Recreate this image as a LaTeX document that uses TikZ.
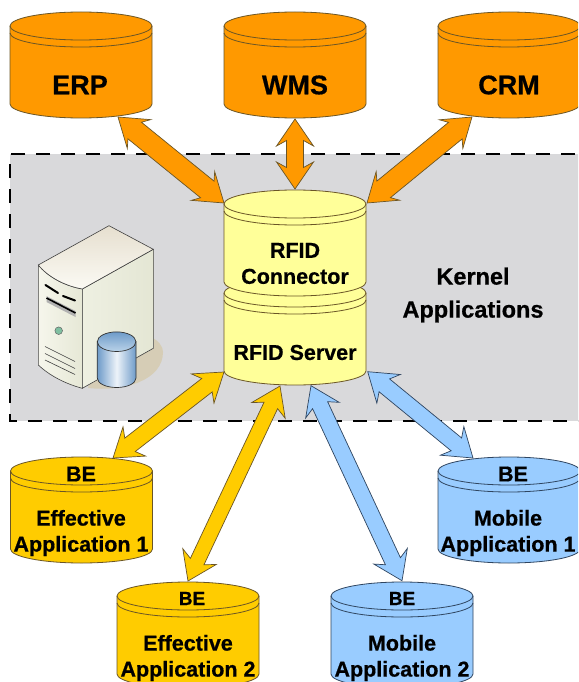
\documentclass[tikz,border=0pt]{standalone}
\usepackage{fontspec}
\setmainfont[BoldFont={Liberation Sans Bold},BoldFeatures={FakeBold=0.6}]{Liberation Sans}
\usetikzlibrary{calc}
\definecolor{cOrange}{HTML}{FF9900}
\definecolor{cGold}{HTML}{FFCC00}
\definecolor{cPale}{HTML}{FFFF99}
\definecolor{cBlue}{HTML}{99CCFF}
\definecolor{cEdge}{HTML}{6A5526}
\definecolor{cSlate}{HTML}{2F4560}
\definecolor{cPanel}{HTML}{D9D9DB}
\definecolor{cShadow}{HTML}{D6CDB6}
\definecolor{cDrumEdge}{HTML}{6E9BC9}
\definecolor{cDrumMid}{HTML}{EDF3F9}
\definecolor{cDrumTop}{HTML}{BAD3E9}
\definecolor{cFrontA}{HTML}{F6F6EC}
\definecolor{cFrontB}{HTML}{E6E8D6}
\definecolor{cSideA}{HTML}{EEF0E2}
\definecolor{cSideB}{HTML}{E4E6D4}
\definecolor{cTopA}{HTML}{E6DFCF}
\definecolor{cTopB}{HTML}{FBFAF4}
\definecolor{cLed}{HTML}{7FBFA0}
\tikzset{
  linkshape/.style={line width=0.7pt,line join=miter},
  bigtext/.style={font=\bfseries\fontsize{27}{30}\selectfont,inner sep=0pt,text=black},
  midtext/.style={font=\bfseries\fontsize{21.5}{26}\selectfont,inner sep=0pt,align=center,text=black},
  smalltext/.style={font=\bfseries\fontsize{19}{22}\selectfont,inner sep=0pt,text=black},
  kerneltext/.style={font=\bfseries\fontsize{23.5}{33}\selectfont,inner sep=0pt,align=center,text=black},
  srvline/.style={draw=black!75,line width=0.6pt},
}
% cylinder: cx, top y, bottom y, fill, edge
\newcommand\cyl[5]{%
  \draw[draw=#5,line width=0.8pt,fill=#4] ({#1-71},{#2+14}) .. controls ({#1-71},{#2+6.3}) and ({#1-39.2},{#2}) .. ({#1},{#2}) .. controls ({#1+39.2},{#2}) and ({#1+71},{#2+6.3}) .. ({#1+71},{#2+14}) -- ({#1+71},{#3-14}) .. controls ({#1+71},{#3-6.3}) and ({#1+39.2},{#3}) .. ({#1},{#3}) .. controls ({#1-39.2},{#3}) and ({#1-71},{#3-6.3}) .. ({#1-71},{#3-14}) -- cycle;
  \draw[draw=#5,line width=0.8pt] ({#1-71},{#2+14}) .. controls ({#1-71},{#2+21.7}) and ({#1-39.2},{#2+28}) .. ({#1},{#2+28}) .. controls ({#1+39.2},{#2+28}) and ({#1+71},{#2+21.7}) .. ({#1+71},{#2+14});
  \draw[draw=#5,line width=0.8pt] ({#1-71},{#2+21}) .. controls ({#1-71},{#2+28.7}) and ({#1-39.2},{#2+35}) .. ({#1},{#2+35}) .. controls ({#1+39.2},{#2+35}) and ({#1+71},{#2+28.7}) .. ({#1+71},{#2+21});
}
% double arrow: end a, end b, fill, shaft half width, edge
\newcommand\dbl[5]{%
  \coordinate (A) at #1; \coordinate (B) at #2;
  \coordinate (Aa) at ($(A)!27pt!(B)$); \coordinate (Ab) at ($(A)!21.5pt!(B)$);
  \coordinate (Ba) at ($(B)!27pt!(A)$); \coordinate (Bb) at ($(B)!21.5pt!(A)$);
  \draw[linkshape,draw=#5,fill=#3] (A) -- ($(Aa)!18.5pt!90:(B)$) -- ($(Ab)!#4!90:(B)$) -- ($(Bb)!#4!-90:(A)$) -- ($(Ba)!18.5pt!-90:(A)$) -- (B)
     -- ($(Ba)!18.5pt!90:(A)$) -- ($(Bb)!#4!90:(A)$) -- ($(Ab)!#4!-90:(B)$) -- ($(Aa)!18.5pt!-90:(B)$) -- cycle;
}
\begin{document}
\begin{tikzpicture}[x=1pt,y=-1pt]
\useasboundingbox (0,0) rectangle (578,682);
\clip (0,0) rectangle (578,682);
\fill[white] (0,0) rectangle (578,682);
% kernel panel
\fill[cPanel] (10,154) rectangle (600,421);
\draw[black,line width=2.6pt,dash pattern=on 14pt off 11pt] (600,154) -- (10,154) -- (10,421) -- (600,421);
% server illustration
\fill[cShadow] (88,388) .. controls (125,392) and (163,380) .. (163,352) .. controls (163,346) and (158,341) .. (153,338) -- (90,380) -- cycle;
\shade[left color=cFrontA,right color=cFrontB,draw=black!75,line width=0.6pt] (38.3,265) -- (38.3,365) .. controls (50,376) and (66,384) .. (82.3,388.3) -- (82.3,289) .. controls (65,286) and (48,277) .. (38.3,265) -- cycle;
\shade[left color=cSideA,right color=cSideB,draw=black!75,line width=0.6pt] (82.3,289) -- (153.3,249.3) -- (153.3,348.3) -- (82.3,388.3) -- cycle;
\shade[top color=cTopA,bottom color=cTopB,draw=black!75,line width=0.6pt] (38.3,265) -- (109,225.7) -- (153.3,249.3) -- (82.3,289) .. controls (65,286) and (48,277) .. (38.3,265) -- cycle;
\draw[black,line width=2pt,line cap=round] (45.5,285) -- (58,293);
\draw[black,line width=2pt,line cap=round] (63,296) -- (75,300.5);
\fill[black!30] (46.5,296) -- (75.5,311) -- (75.5,317) -- (46.5,302) -- cycle;
\draw[black,line width=1.6pt] (46.5,298) -- (75.5,313);
\fill[cLed,draw=black!60,line width=0.5pt] (58.7,330.7) circle[radius=3.8];
\draw[srvline] (45,346.5) -- (75,361.5);
\draw[srvline] (45,353.5) -- (75,368.5);
\draw[srvline] (45,360) -- (75,374.5);
\shade[left color=cDrumEdge,right color=cDrumEdge,middle color=cDrumMid,draw=black!80,line width=0.7pt] (97.3,341.7) -- (97.3,378) .. controls (97.3,383.5) and (106,387.5) .. (116.6,387.5) .. controls (127.3,387.5) and (136,383.5) .. (136,378) -- (136,341.7) -- cycle;
\shade[top color=cDrumEdge,bottom color=cDrumTop,draw=black!80,line width=0.7pt] (116.6,341.7) ellipse[x radius=19.3,y radius=9.8];
% cylinders
\cyl{81}{12}{118}{cOrange}{cEdge}
\cyl{295}{12}{118}{cOrange}{cEdge}
\cyl{509}{12}{118}{cOrange}{cEdge}
\cyl{295}{279}{385}{cPale}{cEdge}
\cyl{295}{190}{296}{cPale}{cEdge}
\cyl{81.5}{457}{563}{cGold}{cEdge}
\cyl{188}{582}{688}{cGold}{cEdge}
\cyl{509}{457}{563}{cBlue}{cSlate}
\cyl{402}{582}{688}{cBlue}{cSlate}
% labels
\node[bigtext] (erp) at (80,85) {ERP};
\node[bigtext] (wms) at (295,85) {WMS};
\node[bigtext] (crm) at (509,85) {CRM};
\node[midtext] (conn) at (295,263.5) {RFID\\Connector};
\node[midtext] (serv) at (295,352.5) {RFID Server};
\node[kerneltext] (kern) at (473,295) {Kernel\\Applications};
\node[midtext] (be1) at (81,474) {BE};
\node[midtext] (eff1) at (81,533) {Effective\\Application 1};
\node[smalltext] (be2) at (192,598.5) {BE};
\node[midtext] (eff2) at (188,658) {Effective\\Application 2};
\node[midtext] (be3) at (513,474) {BE};
\node[midtext] (mob1) at (508,533) {Mobile\\Application 1};
\node[smalltext] (be4) at (402,598.5) {BE};
\node[midtext] (mob2) at (402,658) {Mobile\\Application 2};
% connectors
\dbl{($(erp)+(38,32)$)}{($(conn)+(-71,-60.5)$)}{cOrange}{10.7pt}{cEdge}
\dbl{($(wms)+(0,34)$)}{($(conn)+(0,-74.5)$)}{cOrange}{8.5pt}{cEdge}
\dbl{($(crm)+(-37,32)$)}{($(conn)+(72,-60.5)$)}{cOrange}{10.7pt}{cEdge}
\dbl{($(eff1)+(32,-75)$)}{($(serv)+(-71,19.5)$)}{cGold}{8.5pt}{cEdge}
\dbl{($(eff2)+(0,-77)$)}{($(serv)+(-15,33.5)$)}{cGold}{7.5pt}{cEdge}
\dbl{($(mob2)+(0,-77.3)$)}{($(serv)+(16,33.2)$)}{cBlue}{8.3pt}{cSlate}
\dbl{($(mob1)+(-35,-75)$)}{($(serv)+(72.7,19.2)$)}{cBlue}{8.3pt}{cSlate}
\end{tikzpicture}
\end{document}
